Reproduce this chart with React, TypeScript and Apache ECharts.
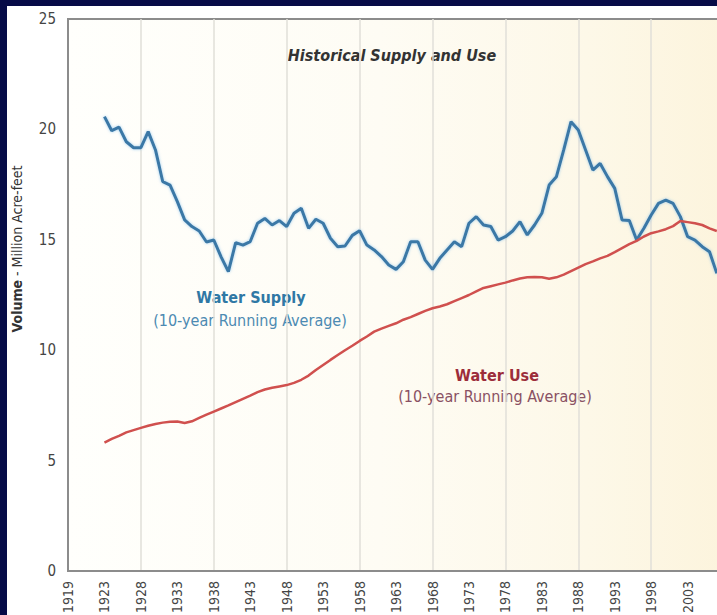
import React, { useEffect, useRef } from "react";
import * as echarts from "echarts";

// Years on the category axis (one slot per year)
const years: string[] = Array.from({ length: 96 }, (_, i) => String(1918 + i));

// Printed tick labels, one every five slots
const xTickLabels = [
  "1919", "1923", "1928", "1933", "1938", "1943", "1948", "1953", "1958", "1963",
  "1968", "1973", "1978", "1983", "1988", "1993", "1998", "2003", "2008", "2013",
];

const yTicks = [0, 5, 10, 15, 20, 25];

// Series start year
const startYear = 1923;

// Water supply, 10-year running average (million acre-feet), 1923–2007
const waterSupply = [
  20.58, 19.94, 20.1, 19.44, 19.17, 19.17, 19.9, 19.07, 17.63, 17.48,
  16.73, 15.9, 15.6, 15.4, 14.9, 14.99, 14.23, 13.56, 14.87, 14.76,
  14.92, 15.75, 15.97, 15.67, 15.87, 15.6, 16.2, 16.43, 15.52, 15.93,
  15.75, 15.07, 14.69, 14.72, 15.2, 15.41, 14.76, 14.54, 14.24, 13.86,
  13.66, 14.01, 14.91, 14.91, 14.08, 13.66, 14.16, 14.54, 14.91, 14.69,
  15.75, 16.05, 15.67, 15.6, 14.99, 15.14, 15.4, 15.82, 15.22, 15.67,
  16.2, 17.48, 17.86, 19.07, 20.35, 19.97, 19.07, 18.16, 18.46, 17.86,
  17.33, 15.9, 15.87, 14.99, 15.52, 16.12, 16.65, 16.8, 16.65, 16.05,
  15.14, 14.99, 14.69, 14.46, 13.48,
];

// Water use, 10-year running average (million acre-feet), 1923–2007
const waterUse = [
  5.81, 5.98, 6.12, 6.28, 6.38, 6.48, 6.58, 6.66, 6.72, 6.76,
  6.77, 6.7, 6.78, 6.93, 7.08, 7.22, 7.36, 7.5, 7.65, 7.8,
  7.94, 8.1, 8.22, 8.3, 8.36, 8.42, 8.52, 8.66, 8.85, 9.1,
  9.33, 9.56, 9.78, 10.0, 10.2, 10.42, 10.62, 10.84, 10.98, 11.1,
  11.22, 11.38, 11.5, 11.64, 11.78, 11.9, 11.98, 12.08, 12.22, 12.36,
  12.5, 12.66, 12.82, 12.9, 12.98, 13.06, 13.16, 13.25, 13.3, 13.32,
  13.3, 13.24, 13.3, 13.42, 13.58, 13.74, 13.9, 14.02, 14.16, 14.27,
  14.44, 14.62, 14.8, 14.95, 15.15, 15.3, 15.38, 15.48, 15.62, 15.85,
  15.8, 15.75, 15.67, 15.52, 15.4,
];

const FONT = "'Liberation Sans Narrow', 'DejaVu Sans Condensed', 'Roboto Condensed', 'Liberation Sans', sans-serif";

function toSeries(values: number[]): (number | null)[] {
  const offset = startYear - Number(years[0]);
  return years.map((_, i) => {
    const k = i - offset;
    return k >= 0 && k < values.length ? values[k] : null;
  });
}

export default function App() {
  const ref = useRef<HTMLDivElement>(null);

  useEffect(() => {
    if (!ref.current) return;
    const chart = echarts.init(ref.current, undefined, { renderer: "svg" });
    chart.setOption({
      animation: false,
      backgroundColor: "#ffffff",
      textStyle: { fontFamily: FONT },
      grid: {
        left: 61,
        top: 13,
        width: 95 * 7.29,
        height: 552,
        show: true,
        borderColor: "#8c8c8c",
        borderWidth: 2,
        backgroundColor: new echarts.graphic.LinearGradient(0, 0, 1, 0, [
          { offset: 0, color: "#fffffc" },
          { offset: 0.45, color: "#fefcf4" },
          { offset: 0.75, color: "#fdf8e8" },
          { offset: 1, color: "#fcf3da" },
        ]),
      },
      xAxis: {
        type: "category",
        data: years,
        boundaryGap: false,
        axisLine: { show: true, lineStyle: { color: "#8c8c8c", width: 2 } },
        axisTick: { show: false },
        axisLabel: {
          interval: 4,
          rotate: 90,
          margin: 10,
          fontSize: 14,
          color: "#444",
          fontFamily: FONT,
          formatter: (value: string) => {
            const idx = years.indexOf(value);
            return idx % 5 === 0 ? xTickLabels[idx / 5] : "";
          },
        },
        splitLine: {
          show: true,
          interval: (index: number) => index > 0 && index % 10 === 0,
          lineStyle: { color: "#e0dfd8", width: 1.5 },
        },
      },
      yAxis: {
        type: "value",
        min: yTicks[0],
        max: yTicks[yTicks.length - 1],
        interval: 5,
        axisLine: { show: true, lineStyle: { color: "#8c8c8c", width: 2 } },
        axisTick: { show: false },
        splitLine: { show: false },
        axisLabel: { margin: 12, fontSize: 15, color: "#444", fontFamily: FONT },
      },
      series: [
        {
          name: "Water Supply",
          type: "line",
          data: toSeries(waterSupply),
          showSymbol: false,
          connectNulls: false,
          lineStyle: {
            color: "#3b78a6",
            width: 3,
            shadowColor: "rgba(120,185,235,0.7)",
            shadowBlur: 3,
          },
        },
        {
          name: "Water Use",
          type: "line",
          data: toSeries(waterUse),
          showSymbol: false,
          connectNulls: false,
          lineStyle: { color: "#d0504e", width: 2.5 },
        },
      ],
      graphic: [
        {
          type: "text",
          x: 385,
          y: 49,
          style: {
            text: "Historical Supply and Use",
            fill: "#333",
            font: `italic bold 16px ${FONT}`,
            align: "center",
            verticalAlign: "middle",
          },
        },
        {
          type: "text",
          x: 10,
          y: 243,
          rotation: Math.PI / 2,
          style: {
            text: "{b|Volume} - Million Acre-feet",
            fill: "#333",
            font: `14px ${FONT}`,
            align: "center",
            verticalAlign: "middle",
            rich: {
              b: { fontWeight: "bold", fontSize: 14, fill: "#333", fontFamily: FONT },
            },
          },
        },
        {
          type: "text",
          x: 244,
          y: 291,
          style: {
            text: "Water Supply",
            fill: "#2f78a5",
            font: `bold 16px ${FONT}`,
            align: "center",
            verticalAlign: "middle",
          },
        },
        {
          type: "text",
          x: 243,
          y: 314,
          style: {
            text: "(10-year Running Average)",
            fill: "#4c8ab2",
            font: `16px ${FONT}`,
            align: "center",
            verticalAlign: "middle",
          },
        },
        {
          type: "text",
          x: 490,
          y: 369,
          style: {
            text: "Water Use",
            fill: "#9c2d3a",
            font: `bold 16px ${FONT}`,
            align: "center",
            verticalAlign: "middle",
          },
        },
        {
          type: "text",
          x: 488,
          y: 390,
          style: {
            text: "(10-year Running Average)",
            fill: "#8a5163",
            font: `16px ${FONT}`,
            align: "center",
            verticalAlign: "middle",
          },
        },
      ],
    });
    return () => chart.dispose();
  }, []);

  return (
    <div
      style={{
        position: "fixed",
        left: 0,
        top: 0,
        width: 717,
        height: 615,
        background: "#060b47",
        overflow: "hidden",
      }}
    >
      <div
        style={{
          position: "absolute",
          left: 7,
          top: 6,
          width: 800,
          height: 660,
          background: "#ffffff",
        }}
      >
        <div ref={ref} style={{ width: 800, height: 660 }} />
      </div>
    </div>
  );
}
